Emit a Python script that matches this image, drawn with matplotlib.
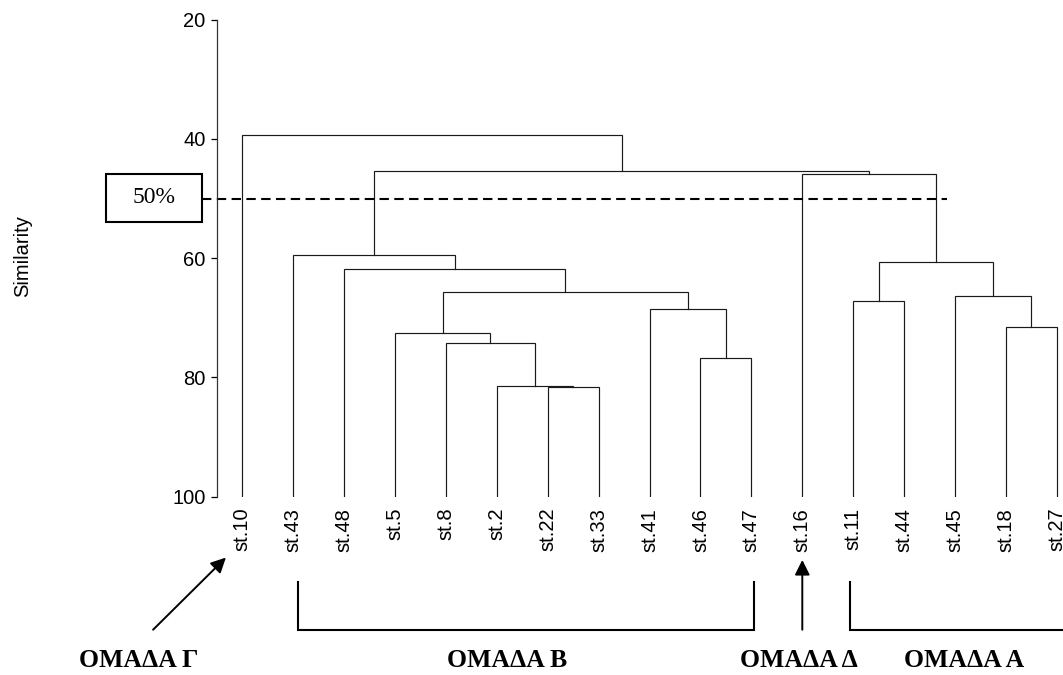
import matplotlib
matplotlib.use("Agg")
import matplotlib.pyplot as plt
from matplotlib.patches import Rectangle

plt.rcParams['font.family'] = ['Liberation Sans', 'DejaVu Sans']

# Stations in dendrogram order
leaves = ["st.10", "st.43", "st.48", "st.5", "st.8", "st.2", "st.22", "st.33",
          "st.41", "st.46", "st.47", "st.16", "st.11", "st.44", "st.45", "st.18", "st.27"]

# Agglomeration steps: node m<k> joins merge_left[k] and merge_right[k] at merge_sim[k] (%)
merge_left = ["st.22", "st.2", "st.46", "st.8", "st.5", "st.18", "st.41", "st.11",
              "st.45", "m4", "st.48", "m7", "st.43", "st.16", "m12", "st.10"]
merge_right = ["st.33", "m0", "st.47", "m1", "m3", "st.27", "m2", "st.44",
               "m5", "m6", "m9", "m8", "m10", "m11", "m13", "m14"]
merge_sim = [81.6, 81.35, 76.7, 74.15, 72.6, 71.6, 68.5, 67.2,
             66.4, 65.7, 61.85, 60.7, 59.4, 45.9, 45.3, 39.3]

cut_level = 50
yticks = [20, 40, 60, 80, 100]

# Groups below the dendrogram
group_names = ["ΟΜΑΔΑ Γ", "ΟΜΑΔΑ Β", "ΟΜΑΔΑ Δ", "ΟΜΑΔΑ Α"]

fig = plt.figure(figsize=(10.63, 6.75), dpi=100)
ax = fig.add_axes([0.2039, 0.2641, 0.7961, 0.7067])

# node positions: x of a node is the midpoint of its two children
pos_x = {name: i for i, name in enumerate(leaves)}
pos_y = {name: 100.0 for name in leaves}

lc = '#1a1a1a'
lw = 0.85
for k, (a, b, s) in enumerate(zip(merge_left, merge_right, merge_sim)):
    xa, xb = pos_x[a], pos_x[b]
    ax.plot([xa, xa, xb, xb], [pos_y[a], s, s, pos_y[b]], color=lc, lw=lw,
            solid_joinstyle='miter')
    pos_x[f"m{k}"] = (xa + xb) / 2
    pos_y[f"m{k}"] = s

ax.set_xlim(-0.5, 16.12)
ax.set_ylim(100, 20)
ax.set_yticks(yticks)
ax.set_xticks(range(len(leaves)))
ax.set_xticklabels(leaves, rotation=90, fontsize=14.5)
ax.tick_params(axis='x', length=0, pad=8)
ax.tick_params(axis='y', direction='out', length=4, width=0.9, labelsize=14.5, pad=4)
for side in ['top', 'right', 'bottom']:
    ax.spines[side].set_visible(False)
ax.spines['left'].set_linewidth(0.9)
ax.spines['left'].set_color('#333333')

fig.text(0.021, 0.62, "Similarity", rotation=90, fontsize=14.5, ha='center', va='center')

# 50% cut line and its label box
ax.plot([-0.78, 13.84], [cut_level, cut_level], color='black', lw=1.5,
        dashes=(4.5, 2.6), clip_on=False)
ax.add_patch(Rectangle((-2.683, 45.87), 1.897, 8.05, fill=False, edgecolor='black',
                       lw=1.5, clip_on=False))
ax.text(-1.735, 49.9, "50%", family='Liberation Serif', fontsize=17,
        ha='center', va='center')

# brackets under group B and group A
blw = 1.5
ax.plot([1.1, 1.1, 10.05, 10.05], [114.3, 122.3, 122.3, 114.3], color='black',
        lw=blw, clip_on=False, solid_joinstyle='miter')
ax.plot([11.94, 11.94, 17.5], [114.3, 122.3, 122.3], color='black',
        lw=blw, clip_on=False, solid_joinstyle='miter')

# arrows pointing at the single-station groups
arrow = dict(arrowstyle='-|>,head_length=0.9,head_width=0.45', color='black', lw=1.4,
             shrinkA=0, shrinkB=0)
ax.annotate("", xy=(-0.32, 110.2), xytext=(-1.75, 122.3), arrowprops=arrow,
            annotation_clip=False)
ax.annotate("", xy=(11.0, 110.6), xytext=(11.0, 122.3), arrowprops=arrow,
            annotation_clip=False)

group_x = [-2.03, 5.2, 10.94, 14.18]
for name, gx in zip(group_names, group_x):
    ax.text(gx, 127.4, name, family='Liberation Serif', fontweight='bold',
            fontsize=18.5, ha='center', va='center', clip_on=False)

fig.savefig("out.png", dpi=100, facecolor='white')
